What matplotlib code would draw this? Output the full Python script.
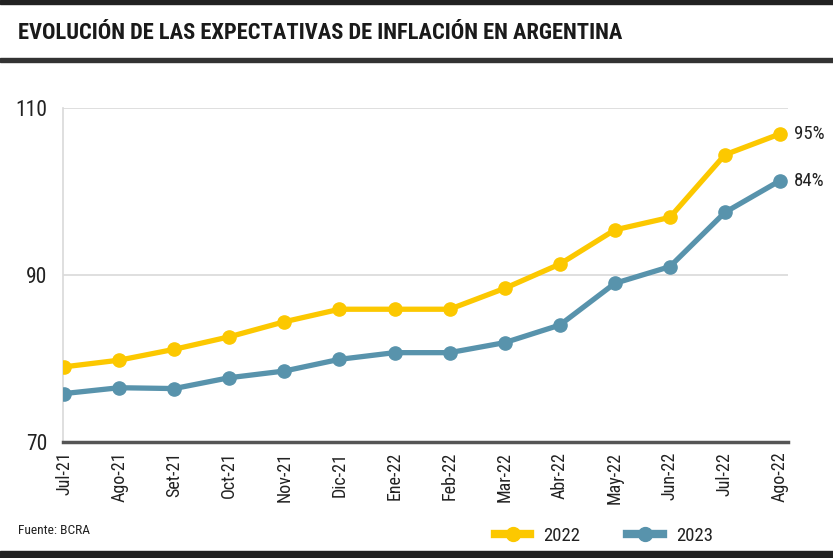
import matplotlib.pyplot as plt
from matplotlib.lines import Line2D
from matplotlib.patches import Rectangle

# data
months = ["Jul-21", "Ago-21", "Set-21", "Oct-21", "Nov-21", "Dic-21", "Ene-22",
          "Feb-22", "Mar-22", "Abr-22", "May-22", "Jun-22", "Jul-22", "Ago-22"]
exp_2022 = [79.0, 79.8, 81.1, 82.6, 84.4, 85.9, 85.9, 85.9, 88.4, 91.3, 95.4, 96.9, 104.4, 106.9]
exp_2023 = [75.8, 76.5, 76.4, 77.7, 78.5, 79.9, 80.7, 80.7, 81.9, 84.0, 89.0, 91.0, 97.5, 101.3]
end_labels = ["95%", "84%"]
series_names = ["2022", "2023"]
yticks = [70, 90, 110]

yellow = "#FCC800"
blue = "#5893AC"
narrow = ["Roboto Condensed", "DejaVu Sans"]
W, H = 833, 558

fig = plt.figure(figsize=(W / 100, H / 100), dpi=100)
ax = fig.add_axes([63 / W, 1 - 442 / H, (788 - 63) / W, (442 - 108) / H])

x = list(range(len(months)))
ax.plot(x, exp_2022, color=yellow, lw=3.8, marker="o", ms=9.5, zorder=3)
ax.plot(x, exp_2023, color=blue, lw=3.8, marker="o", ms=9.5, zorder=3)

# labels at the end of each line
for vals, lab in zip([exp_2022, exp_2023], end_labels):
    ax.annotate(lab, (x[-1], vals[-1]), xytext=(10, 0), textcoords="offset points",
                va="center", ha="left", fontsize=13.5, family=narrow,
                color="#222222", annotation_clip=False)

ax.set_xlim(-0.02, 13.145)
ax.set_ylim(70, 110)
ax.set_xticks(x)
ax.set_xticklabels(months, rotation=90, family=narrow, fontsize=13, color="#222222")
ax.set_yticks(yticks)
ax.set_yticklabels([str(v) for v in yticks], family=narrow, fontsize=15.5, color="#222222")
ax.tick_params(axis="both", length=0)
ax.tick_params(axis="x", pad=7)
ax.tick_params(axis="y", pad=11)
ax.grid(axis="y", color="#d9d9d9", lw=1.2)
ax.set_axisbelow(True)
for s in ["top", "right"]:
    ax.spines[s].set_visible(False)
ax.spines["left"].set_color("#d9d9d9")
ax.spines["left"].set_linewidth(1.2)
ax.spines["bottom"].set_color("#555555")
ax.spines["bottom"].set_linewidth(2.5)

# header and footer bars
fig.patches.append(Rectangle((0, 1 - 4 / H), 1, 4 / H, transform=fig.transFigure,
                             color="#222222", zorder=0))
fig.patches.append(Rectangle((0, 1 - 62 / H), 1, 4 / H, transform=fig.transFigure,
                             color="#333333", zorder=0))
fig.patches.append(Rectangle((0, 0), 1, 7 / H, transform=fig.transFigure,
                             color="#222222", zorder=0))

title = fig.text(18 / W, 1 - 33 / H, "EVOLUCIÓN DE LAS EXPECTATIVAS DE INFLACIÓN EN ARGENTINA",
                 family=narrow, fontweight="bold", fontsize=19,
                 color="#1a1a1a", va="center")
source = fig.text(18 / W, 1 - 530 / H, "Fuente: BCRA", family=narrow,
                  fontsize=11, color="#222222", va="center")

# shrink the texts to the widths they take in the reference
renderer = fig.canvas.get_renderer()
for t, target in [(title, 604), (source, 72)]:
    w = t.get_window_extent(renderer).width
    if w > target:
        t.set_fontsize(t.get_fontsize() * target / w)

handles = [Line2D([], [], color=yellow, lw=6, marker="o", ms=10),
           Line2D([], [], color=blue, lw=6, marker="o", ms=10)]
leg = fig.legend(handles, series_names, loc="center", bbox_to_anchor=(604 / W, 1 - 536 / H),
                 ncol=2, frameon=False, handlelength=1.9, columnspacing=2.5, handletextpad=0.7,
                 prop={"family": narrow, "size": 13.5})
for t in leg.get_texts():
    t.set_color("#222222")

fig.savefig("out.png", dpi=100)
